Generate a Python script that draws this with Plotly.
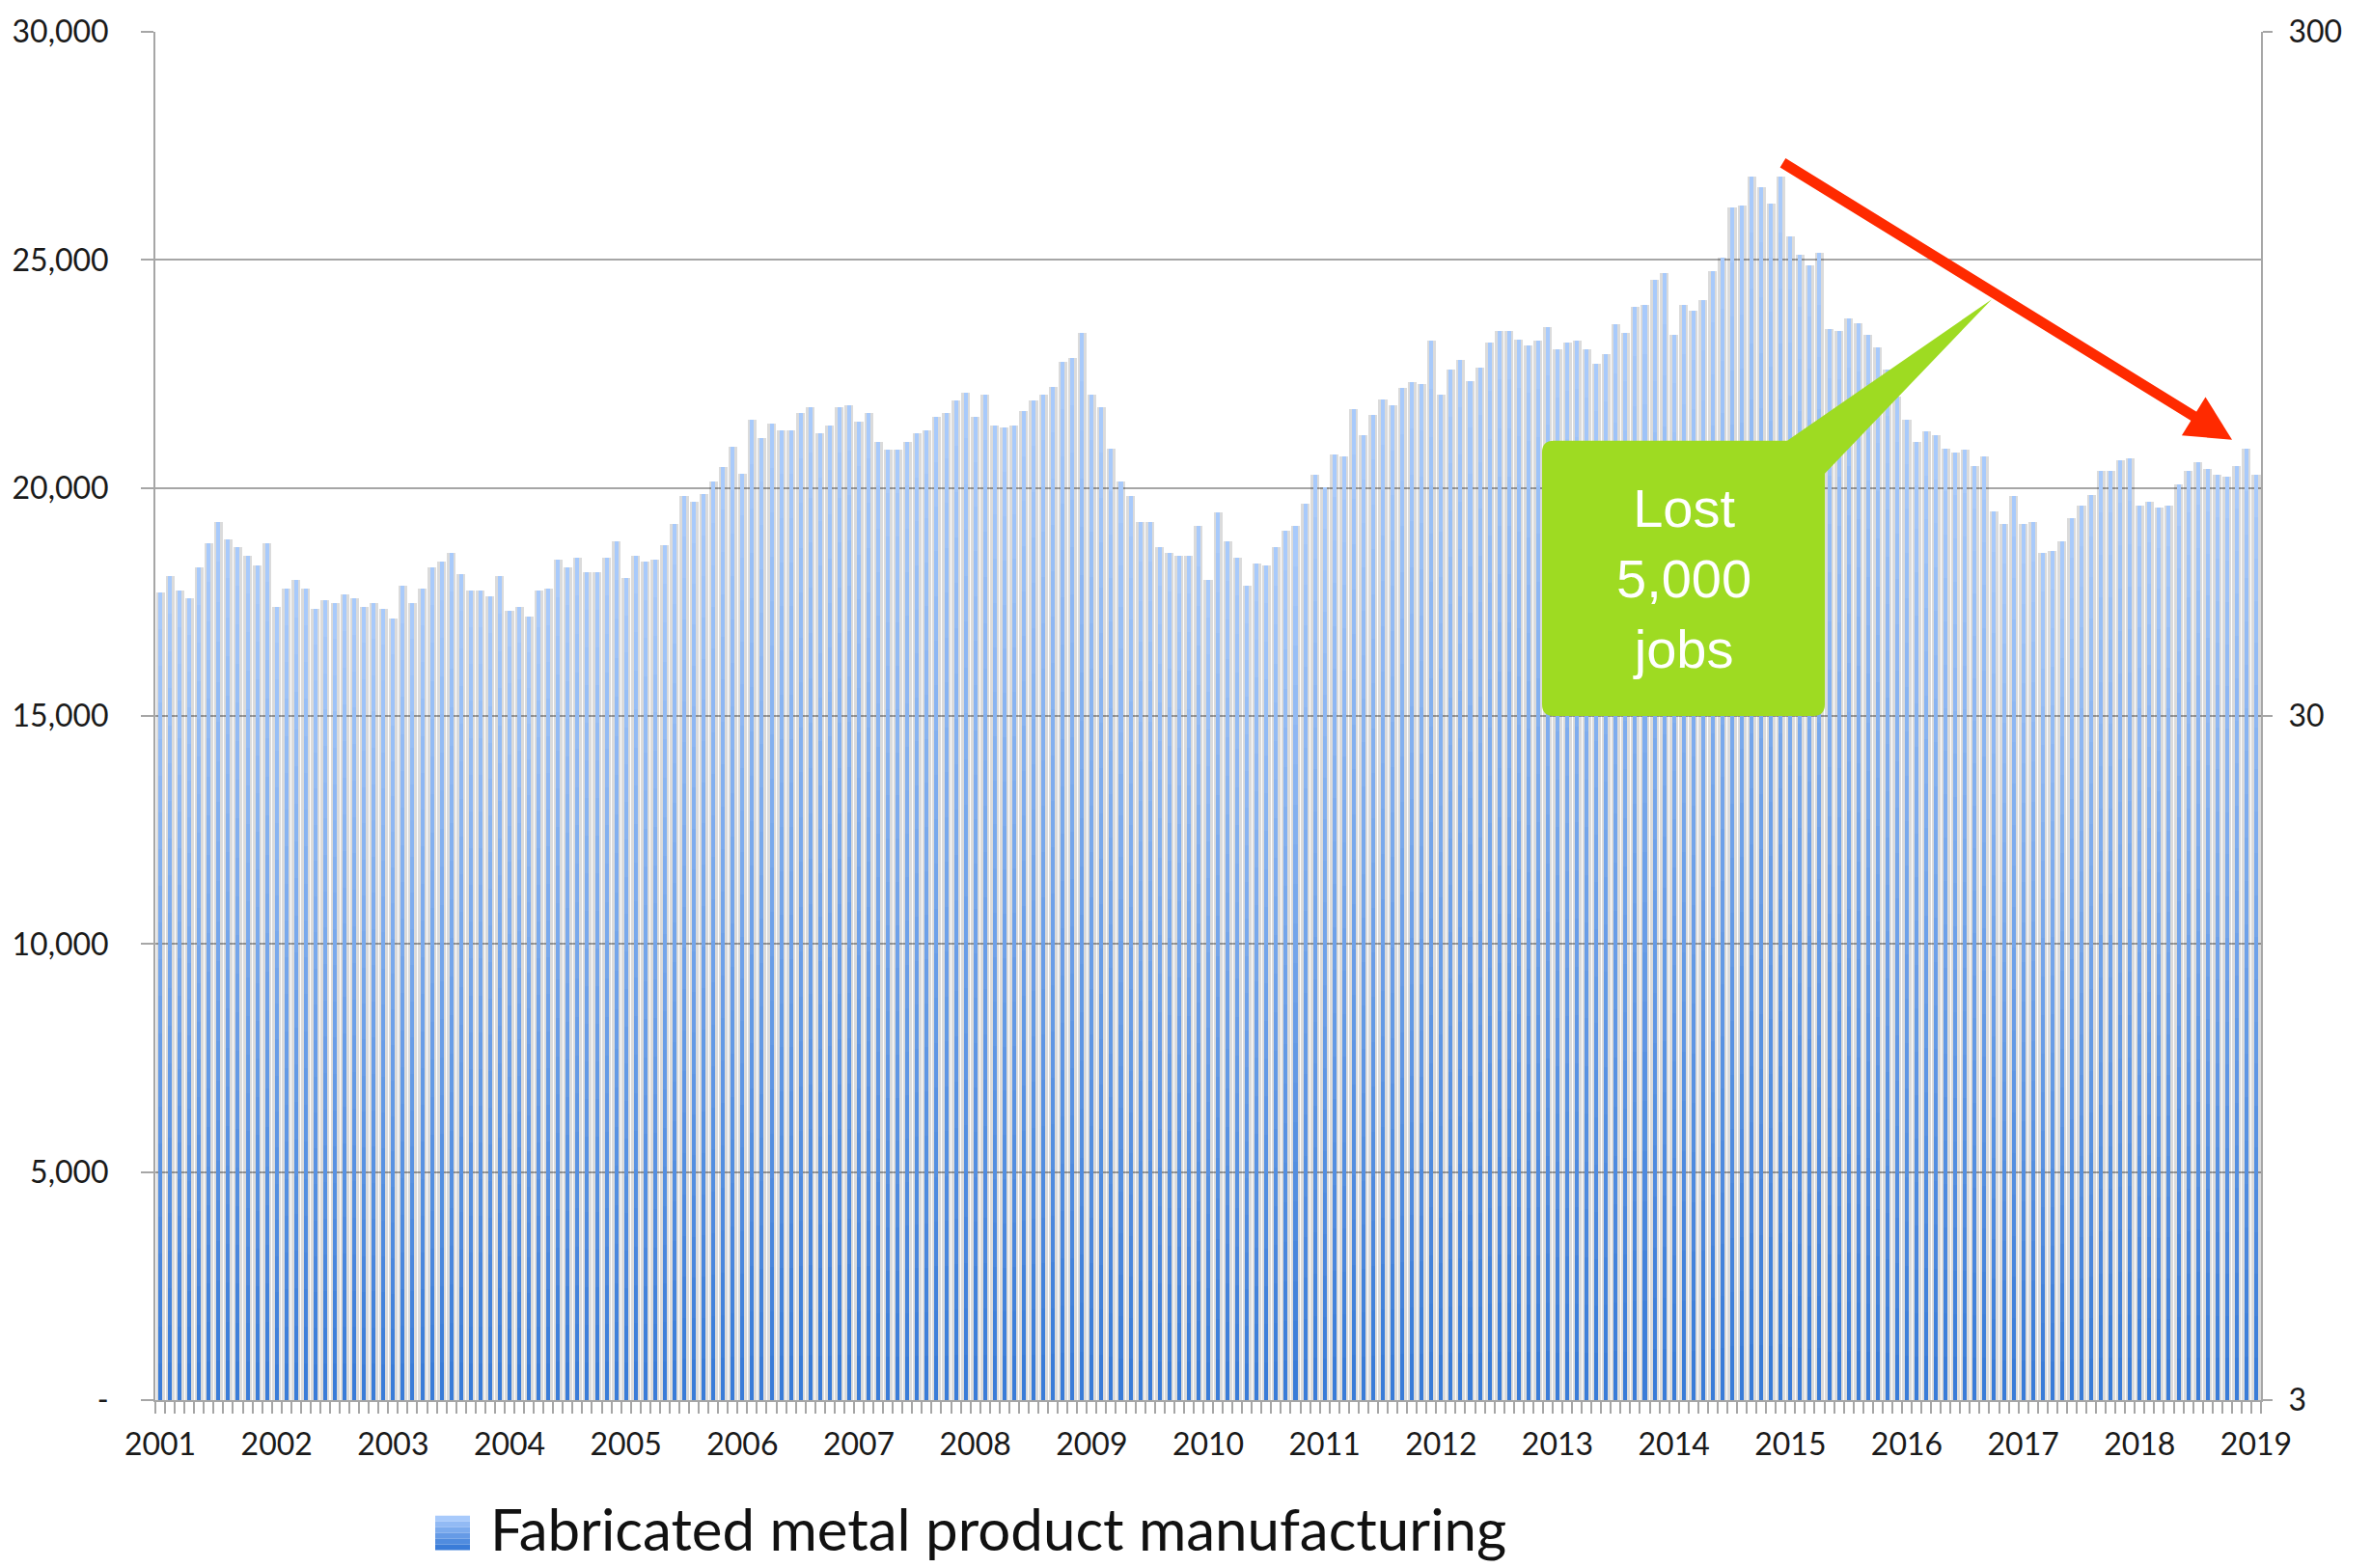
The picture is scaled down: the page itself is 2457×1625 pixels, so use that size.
import math
import plotly.graph_objects as go

# ---------------- data (monthly, Jan 2001 - Jan 2019) ----------------
year_labels = [str(y) for y in range(2001, 2020)]
series_name = "Fabricated metal product manufacturing"

jobs_2001 = [17710, 18070, 17750, 17580, 18260, 18790, 19250, 18880, 18700, 18520, 18290, 18790]
jobs_2002 = [17390, 17800, 17980, 17800, 17350, 17530, 17480, 17670, 17580, 17390, 17480, 17350]
jobs_2003 = [17130, 17850, 17480, 17800, 18260, 18380, 18570, 18120, 17750, 17750, 17620, 18070]
jobs_2004 = [17300, 17390, 17170, 17760, 17800, 18430, 18260, 18480, 18160, 18160, 18480, 18840]
jobs_2005 = [18030, 18520, 18380, 18430, 18750, 19200, 19830, 19690, 19870, 20140, 20460, 20910]
jobs_2006 = [20320, 21500, 21100, 21410, 21270, 21270, 21640, 21770, 21190, 21360, 21770, 21820]
jobs_2007 = [21460, 21640, 21010, 20830, 20830, 21010, 21190, 21270, 21550, 21640, 21910, 22090]
jobs_2008 = [21550, 22050, 21360, 21320, 21360, 21680, 21910, 22050, 22220, 22770, 22850, 23400]
jobs_2009 = [22050, 21770, 20870, 20140, 19830, 19260, 19260, 18700, 18570, 18520, 18520, 19160]
jobs_2010 = [17980, 19470, 18820, 18480, 17850, 18350, 18300, 18700, 19070, 19160, 19660, 20290]
jobs_2011 = [20020, 20740, 20690, 21730, 21150, 21600, 21950, 21820, 22190, 22310, 22270, 23220]
jobs_2012 = [22050, 22590, 22810, 22350, 22630, 23180, 23440, 23440, 23260, 23130, 23220, 23530]
jobs_2013 = [23030, 23180, 23220, 23030, 22720, 22940, 23580, 23400, 23980, 24020, 24570, 24710]
jobs_2014 = [23350, 24020, 23890, 24120, 24750, 25060, 26140, 26190, 26820, 26590, 26240, 26820]
jobs_2015 = [25510, 25110, 24880, 25150, 23480, 23440, 23710, 23620, 23350, 23080, 22600, 22000]
jobs_2016 = [21500, 21010, 21240, 21150, 20870, 20780, 20830, 20470, 20690, 19480, 19210, 19830]
jobs_2017 = [19210, 19250, 18580, 18620, 18840, 19340, 19620, 19840, 20380, 20380, 20610, 20650]
jobs_2018 = [19620, 19700, 19570, 19620, 20070, 20380, 20560, 20420, 20290, 20250, 20470, 20870]
jobs_2019 = [20290]

y_tick_values = [0, 5000, 10000, 15000, 20000, 25000, 30000]
y_tick_labels = ["-", "5,000", "10,000", "15,000", "20,000", "25,000", "30,000"]
y2_tick_values = [3, 30, 300]
y2_tick_labels = ["3", "30", "300"]

callout_text = "Lost<br>5,000<br>jobs"

values = (jobs_2001 + jobs_2002 + jobs_2003 + jobs_2004 + jobs_2005 + jobs_2006 +
          jobs_2007 + jobs_2008 + jobs_2009 + jobs_2010 + jobs_2011 + jobs_2012 +
          jobs_2013 + jobs_2014 + jobs_2015 + jobs_2016 + jobs_2017 + jobs_2018 + jobs_2019)
months = list(range(len(values)))
year_ticks = [12 * i for i in range(len(year_labels))]

# ---------------- geometry helpers (pixels -> paper) ----------------
W, H = 2457, 1625
L, R, T, B = 161, 2343, 29, 1451

def px(x):
    return (x - L) / (R - L)

def py(y):
    return (B - y) / (B - T)

GRID = "#a6a6a6"

fig = go.Figure()

# shadow behind bars
fig.add_bar(x=months, y=values, width=0.9,
            marker=dict(color="rgba(0,0,0,0.14)", line_width=0),
            hoverinfo="skip", showlegend=False)

# gradient blue bars (light top -> dark bottom)
N = 22
top_c = (168, 202, 251)
bot_c = (58, 124, 216)
for k in range(N):
    f = (N - k) / N
    t = k / (N - 1)
    c = tuple(round(top_c[i] + (bot_c[i] - top_c[i]) * t) for i in range(3))
    fig.add_bar(x=months, y=[v * f for v in values], width=0.4,
                marker=dict(color="rgb(%d,%d,%d)" % c, line_width=0),
                name=series_name, showlegend=False, hoverinfo="skip")

# empty trace to activate the secondary (log) axis
fig.add_trace(go.Scatter(x=[], y=[], yaxis="y2", showlegend=False))

axis_font = dict(family="Lato", size=32, color="#1a1a1a")

fig.update_layout(
    width=W, height=H,
    margin=dict(l=L, r=W - R, t=T, b=H - B, pad=0),
    paper_bgcolor="white", plot_bgcolor="white",
    barmode="overlay", bargap=0, showlegend=False,
    font=axis_font,
    xaxis=dict(range=[-0.5, len(values) - 0.5], tickmode="array",
               tickvals=year_ticks, ticktext=year_labels, ticks="",
               showgrid=False, zeroline=False, showline=True,
               linecolor=GRID, linewidth=2, tickfont=axis_font,
               ticklabelstandoff=17,
               minor=dict(tickmode="linear", tick0=0.5, dtick=1, ticks="outside",
                          ticklen=12, tickwidth=2, tickcolor=GRID, showgrid=False)),
    yaxis=dict(range=[0, 30000], tickmode="array", tickvals=y_tick_values,
               ticktext=y_tick_labels, ticks="outside", ticklen=13, tickwidth=2,
               tickcolor=GRID, showgrid=True, gridcolor=GRID, gridwidth=2,
               showline=True, linecolor=GRID, linewidth=2, zeroline=False,
               tickfont=axis_font, ticklabelstandoff=27),
    yaxis2=dict(type="log", range=[math.log10(3), math.log10(300)], overlaying="y",
                side="right", tickmode="array", tickvals=y2_tick_values,
                ticktext=y2_tick_labels, ticks="outside", ticklen=10, tickwidth=2,
                tickcolor=GRID, showgrid=False, showline=True, linecolor=GRID,
                linewidth=2, zeroline=False, tickfont=axis_font, ticklabelstandoff=10),
)

# ---------------- callout ----------------
bx0, bx1, by0, by1, r = 1598, 1891, 454, 740, 12
tip = (2064, 307)

def P(x, y):
    return "%.5f,%.5f" % (px(x), py(y))

path = ("M" + P(bx0 + r, by0) + " L" + P(1852, by0) + " L" + P(*tip) +
        " L" + P(bx1, 488) + " L" + P(bx1, by1 - r) +
        " Q" + P(bx1, by1) + " " + P(bx1 - r, by1) +
        " L" + P(bx0 + r, by1) +
        " Q" + P(bx0, by1) + " " + P(bx0, by1 - r) +
        " L" + P(bx0, by0 + r) +
        " Q" + P(bx0, by0) + " " + P(bx0 + r, by0) + " Z")
fig.add_shape(type="path", path=path, xref="paper", yref="paper",
              fillcolor="#9edb22", line=dict(width=0), layer="above")

fig.add_annotation(x=px(1745), y=py(597), xref="paper", yref="paper",
                   text=callout_text, showarrow=False, align="center",
                   xanchor="center", yanchor="middle",
                   font=dict(family="Liberation Sans", size=56, color="white"))

# red arrow
fig.add_annotation(x=px(2313), y=py(453), xref="paper", yref="paper",
                   text="", showarrow=True, ax=1846 - 2313, ay=165 - 453,
                   arrowcolor="#ff2a00", arrowwidth=11, arrowhead=2,
                   arrowsize=0.85, standoff=0)

# ---------------- legend (manual) ----------------
lx0, lx1, ly0, ly1 = 451, 487, 1571, 1607
steps = 6
for s in range(steps):
    t = s / (steps - 1)
    c = tuple(round(top_c[i] + (bot_c[i] - top_c[i]) * t) for i in range(3))
    y_a = ly0 + (ly1 - ly0) * s / steps
    y_b = ly0 + (ly1 - ly0) * (s + 1) / steps
    fig.add_shape(type="rect", xref="paper", yref="paper",
                  x0=px(lx0), x1=px(lx1), y0=py(y_a), y1=py(y_b),
                  fillcolor="rgb(%d,%d,%d)" % c, line=dict(width=0))
fig.add_annotation(x=px(506), y=py(1584), xref="paper", yref="paper",
                   text=series_name, showarrow=False, xanchor="left",
                   yanchor="middle", font=dict(family="Lato", size=60, color="#111111"))

fig.write_html("out.html", config={"displayModeBar": False},
               post_script="document.body.style.margin='0';")
